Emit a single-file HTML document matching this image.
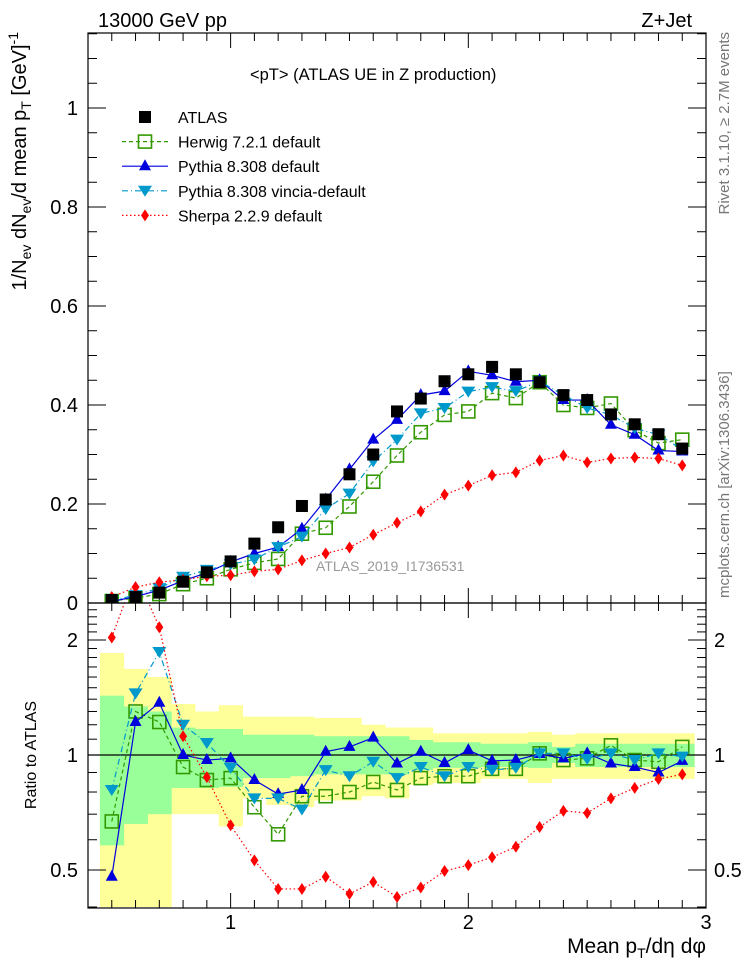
<!DOCTYPE html>
<html><head><meta charset="utf-8"><style>
html,body{margin:0;padding:0;background:#fff;}
svg{display:block;font-family:"Liberation Sans",sans-serif;}
</style></head><body>
<svg id="c" width="746" height="972" xmlns="http://www.w3.org/2000/svg">
<defs>
<clipPath id="mainclip"><rect x="88" y="33" width="618" height="570"/></clipPath>
<clipPath id="ratioclip"><rect x="88" y="603" width="618" height="305"/></clipPath>
</defs>
<g id="bands" clip-path="url(#ratioclip)"></g>
<g id="ticks"></g>
<g id="series-main" clip-path="url(#mainclip)"></g>
<g id="series-ratio" clip-path="url(#ratioclip)"></g>
<rect x="88" y="33" width="618" height="570" fill="none" stroke="#000" stroke-width="1.2"/>
<rect x="88" y="603" width="618" height="305" fill="none" stroke="#000" stroke-width="1.2"/>
<text x="98" y="27" font-size="20">13000 GeV pp</text>
<text x="692" y="27" font-size="20" text-anchor="end">Z+Jet</text>
<text x="250" y="80" font-size="16.5">&lt;pT&gt;  (ATLAS UE in Z production)</text>
<text x="316" y="571" font-size="14" fill="#999">ATLAS_2019_I1736531</text>
<text transform="translate(26,32) rotate(-90)" font-size="20" text-anchor="end">1/N<tspan font-size="14" dy="5">ev</tspan><tspan dy="-5"> dN</tspan><tspan font-size="14" dy="5">ev</tspan><tspan dy="-5">/d mean p</tspan><tspan font-size="14" dy="5">T</tspan><tspan dy="-5"> [GeV]</tspan><tspan font-size="14" dy="-8">-1</tspan></text>
<text transform="translate(36,755) rotate(-90)" font-size="16" text-anchor="middle">Ratio to ATLAS</text>
<text x="706" y="953" font-size="21" text-anchor="end">Mean p<tspan font-size="14" dy="5">T</tspan><tspan dy="-5">/dη dφ</tspan></text>
<text transform="translate(729,32) rotate(-90)" font-size="15" fill="#777" text-anchor="end">Rivet 3.1.10, ≥ 2.7M events</text>
<text transform="translate(729,598) rotate(-90)" font-size="15" fill="#777">mcplots.cern.ch [arXiv:1306.3436]</text>
<g id="legend"></g>
</svg>
<script>
const xs=[0.5,0.6,0.7,0.8,0.9,1.0,1.1,1.2,1.3,1.4,1.5,1.6,1.7,1.8,1.9,2.0,2.1,2.2,2.3,2.4,2.5,2.6,2.7,2.8,2.9];
const atlas=[0.006,0.012,0.021,0.043,0.062,0.084,0.12,0.153,0.196,0.209,0.26,0.30,0.387,0.413,0.448,0.462,0.477,0.462,0.446,0.42,0.41,0.381,0.361,0.341,0.312];
const herwig=[0.004,0.01,0.018,0.038,0.05,0.068,0.081,0.089,0.14,0.152,0.195,0.245,0.298,0.345,0.38,0.387,0.424,0.414,0.446,0.40,0.394,0.403,0.349,0.323,0.33];
const pythia=[0.003,0.013,0.026,0.045,0.061,0.083,0.1,0.113,0.15,0.209,0.27,0.33,0.37,0.42,0.428,0.468,0.46,0.447,0.45,0.41,0.41,0.36,0.34,0.308,0.306];
const vincia=[0.005,0.016,0.03,0.053,0.067,0.078,0.088,0.113,0.134,0.19,0.221,0.286,0.33,0.383,0.394,0.427,0.436,0.428,0.448,0.42,0.394,0.38,0.353,0.34,0.31];
const sherpa=[0.012,0.032,0.042,0.047,0.054,0.056,0.064,0.068,0.086,0.1,0.112,0.138,0.162,0.185,0.219,0.237,0.258,0.264,0.288,0.298,0.284,0.292,0.294,0.292,0.278];
const rHerwig=[0.67,1.30,1.22,0.93,0.86,0.87,0.73,0.62,0.78,0.78,0.80,0.85,0.81,0.87,0.88,0.88,0.92,0.92,1.01,0.97,0.98,1.06,0.97,0.96,1.05];
const rPythia=[0.48,1.22,1.37,1.0,0.97,0.98,0.86,0.79,0.81,1.02,1.05,1.11,0.95,1.02,0.953,1.03,0.965,0.97,1.006,0.98,1.01,0.95,0.93,0.90,0.965];
const rVincia=[0.81,1.45,1.86,1.2,1.075,0.925,0.77,0.77,0.72,0.913,0.88,0.96,0.87,0.93,0.88,0.93,0.913,0.925,1.01,1.01,0.976,1.01,0.97,1.01,0.99];
const rSherpa=[2.03,3.0,2.16,1.12,0.875,0.655,0.53,0.446,0.446,0.48,0.433,0.465,0.425,0.45,0.497,0.515,0.54,0.575,0.648,0.714,0.705,0.77,0.82,0.865,0.89];
const yelHi=[1.85,1.68,1.6,1.36,1.3,1.35,1.26,1.26,1.26,1.25,1.25,1.2,1.18,1.18,1.14,1.14,1.14,1.14,1.15,1.13,1.14,1.14,1.14,1.14,1.14];
const yelLo=[0.4,0.4,0.4,0.70,0.70,0.65,0.77,0.74,0.73,0.76,0.76,0.78,0.77,0.835,0.845,0.845,0.866,0.866,0.845,0.866,0.866,0.866,0.866,0.866,0.866];
const grnHi=[1.43,1.34,1.3,1.18,1.17,1.17,1.13,1.13,1.13,1.12,1.12,1.12,1.12,1.095,1.08,1.08,1.07,1.07,1.08,1.05,1.07,1.07,1.07,1.07,1.07];
const grnLo=[0.58,0.66,0.70,0.82,0.82,0.825,0.87,0.87,0.88,0.89,0.89,0.89,0.89,0.913,0.925,0.925,0.93,0.93,0.925,0.953,0.93,0.93,0.93,0.93,0.93];
const xTicks=[1,2,3];
const yTicks=[0,0.2,0.4,0.6,0.8,1];
const yTickLabels=["0","0.2","0.4","0.6","0.8","1"];
const rTicks=[0.5,1,2];
const rTickLabels=["0.5","1","2"];

const NS="http://www.w3.org/2000/svg";
const X=v=>88+(v-0.4)*237.7;
const Y=v=>603-v*495;
const R=v=>755-382*Math.log10(v);
function mk(parent,tag,attrs){const e=document.createElementNS(NS,tag);for(const k in attrs)e.setAttribute(k,attrs[k]);document.getElementById(parent).appendChild(e);return e;}

xs.forEach((x,i)=>{
  const y=mk('bands','rect',{x:X(x-0.05),y:R(yelHi[i]),width:X(x+0.05)-X(x-0.05)+0.5,height:R(yelLo[i])-R(yelHi[i]),fill:'#ffff99'});
  
  
});
xs.forEach((x,i)=>{
  const g=mk('bands','rect',{x:X(x-0.05),y:R(grnHi[i]),width:X(x+0.05)-X(x-0.05)+0.5,height:R(grnLo[i])-R(grnHi[i]),fill:'#99ff99'});
  
  
});
const one=mk('bands','line',{x1:88,x2:706,y1:R(1),y2:R(1),stroke:'#000','stroke-width':1.2});



function tick(x1,y1,x2,y2){mk('ticks','line',{x1,y1,x2,y2,stroke:'#000','stroke-width':1});}
for(let k=5;k<=29;k++){const v=k/10;const big=(k%10===0);const L=big?15:8;
  tick(X(v),603,X(v),603-L);tick(X(v),33,X(v),33+L);
  tick(X(v),908,X(v),908-L);tick(X(v),603,X(v),603+L);}
for(let k=0;k<=23;k++){const v=k*0.05;const big=(k%4===0);const L=big?18:9;
  tick(88,Y(v),88+L,Y(v));tick(706,Y(v),706-L,Y(v));}
[0.4,0.5,0.6,0.7,0.8,0.9,1,1.1,1.2,1.3,1.4,1.5,1.6,1.7,1.8,1.9,2,2.1,2.2,2.3,2.4,2.5].forEach(v=>{
  const big=(v===0.5||v===1||v===2);const L=big?18:9;const y=R(v);if(y<603||y>908)return;
  tick(88,y,88+L,y);tick(706,y,706-L,y);});
xTicks.forEach((v,i)=>{const t=mk('ticks','text',{x:X(v),y:929,'font-size':20,'text-anchor':'middle'});t.textContent=String(v);
  
  });
yTicks.forEach((v,i)=>{const t=mk('ticks','text',{x:78,y:Y(v)+7,'font-size':20,'text-anchor':'end'});t.textContent=yTickLabels[i];
  
  });
rTicks.forEach((v,i)=>{const t=mk('ticks','text',{x:78,y:R(v)+7,'font-size':20,'text-anchor':'end'});t.textContent=rTickLabels[i];
  
  
  const t2=mk('ticks','text',{x:714,y:R(v)+7,'font-size':20});t2.textContent=rTickLabels[i];
  
  });

function marker(g,type,cx,cy,color){
  if(type==='sq')return mk(g,'rect',{x:cx-6,y:cy-6,width:12,height:12,fill:'#000'});
  if(type==='osq')return mk(g,'rect',{x:cx-6.5,y:cy-6.5,width:13,height:13,fill:'none',stroke:color,'stroke-width':1.6});
  if(type==='tu')return mk(g,'path',{d:`M${cx},${cy-7}L${cx+6},${cy+4}L${cx-6},${cy+4}Z`,fill:color});
  if(type==='td')return mk(g,'path',{d:`M${cx-7},${cy-5}L${cx+7},${cy-5}L${cx},${cy+6}Z`,fill:color});
  if(type==='dm')return mk(g,'path',{d:`M${cx},${cy-6}L${cx+4},${cy}L${cx},${cy+6}L${cx-4},${cy}Z`,fill:color});
}
const styles=[
 {name:'herwig',vals:herwig,ratio:rHerwig,color:'#339900',dash:'4,3',m:'osq'},
 {name:'pythia',vals:pythia,ratio:rPythia,color:'#0000dd',dash:'',m:'tu'},
 {name:'vincia',vals:vincia,ratio:rVincia,color:'#0099cc',dash:'6,3,1,3',m:'td'},
 {name:'sherpa',vals:sherpa,ratio:rSherpa,color:'#ff0000',dash:'1.5,2.5',m:'dm'}];
styles.forEach(s=>{
  const pm=mk('series-main','polyline',{points:xs.map((x,i)=>X(x)+','+Y(s.vals[i])).join(' '),fill:'none',stroke:s.color,'stroke-width':1.2,'stroke-dasharray':s.dash});
  
  
  xs.forEach((x,i)=>{const m=marker('series-main',s.m,X(x),Y(s.vals[i]),s.color);
    
    });
  const pr=mk('series-ratio','polyline',{points:xs.map((x,i)=>X(x)+','+R(s.ratio[i])).join(' '),fill:'none',stroke:s.color,'stroke-width':1.2,'stroke-dasharray':s.dash});
  
  
  xs.forEach((x,i)=>{const m=marker('series-ratio',s.m,X(x),R(s.ratio[i]),s.color);
    
    });
});
xs.forEach((x,i)=>{const m=marker('series-main','sq',X(x),Y(atlas[i]),'#000');
  
  });

const leg=[{t:'ATLAS',m:'sq',c:'#000',d:null},{t:'Herwig 7.2.1 default',m:'osq',c:'#339900',d:'4,3'},
 {t:'Pythia 8.308 default',m:'tu',c:'#0000dd',d:''},{t:'Pythia 8.308 vincia-default',m:'td',c:'#0099cc',d:'6,3,1,3'},
 {t:'Sherpa 2.2.9 default',m:'dm',c:'#ff0000',d:'1.5,2.5'}];
leg.forEach((l,i)=>{const y=117+i*24.6;
  if(l.d!==null){const ln=mk('legend','line',{x1:122,x2:168,y1:y,y2:y,stroke:l.c,'stroke-width':1.2,'stroke-dasharray':l.d});
    
    }
  const m=marker('legend',l.m,145,y,l.c);
  
  
  const t=mk('legend','text',{x:178,y:y+6,'font-size':16});t.textContent=l.t;
  
  });
</script>
</body></html>
